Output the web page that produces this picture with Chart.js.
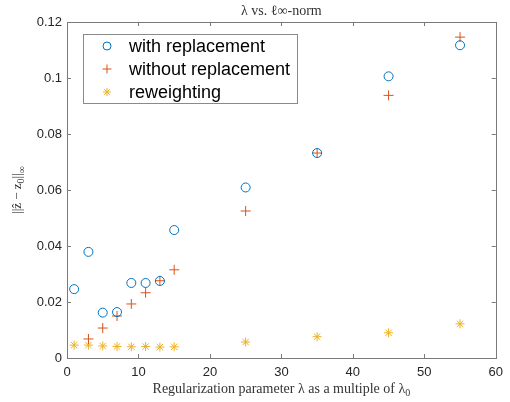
<!DOCTYPE html>
<html><head><meta charset="utf-8">
<script src="https://cdn.jsdelivr.net/npm/chart.js@4.4.0/dist/chart.umd.min.js"></script>
<style>html,body{margin:0;padding:0;background:#fff}#wrap{width:510px;height:402px}</style>
</head><body><div id="wrap"><canvas id="c" width="510" height="402"></canvas></div>
<script>
const xValues = [1, 3, 5, 7, 9, 11, 13, 15, 25, 35, 45, 55];
const withReplacement = [0.0246, 0.0379, 0.0162, 0.0164, 0.0268, 0.0268, 0.0275, 0.0457, 0.0609, 0.0732, 0.1006, 0.1117];
const withoutReplacement = [null, 0.0068, 0.0107, 0.0150, 0.0193, 0.0233, 0.0276, 0.0315, 0.0525, 0.0732, 0.0938, 0.1146];
const reweighting = [0.0046, 0.0046, 0.0043, 0.0041, 0.0040, 0.0041, 0.0039, 0.0040, 0.0057, 0.0076, 0.0090, 0.0122];
const seriesNames = ['with replacement', 'without replacement', 'reweighting'];
const xTicks = [0, 10, 20, 30, 40, 50, 60];
const yTicks = [0, 0.02, 0.04, 0.06, 0.08, 0.1, 0.12];
const yTickLabels = ['0', '0.02', '0.04', '0.06', '0.08', '0.1', '0.12'];
const xTickLabels = ['0', '10', '20', '30', '40', '50', '60'];
const titleText = 'λ vs. ℓ∞-norm';
const xTitle = 'Regularization parameter λ as a multiple of λ';

const colors = ['#0072BD', '#D95319', '#EDB120'];
const styles = ['circle', 'cross', 'star'];
const radii = [4.5, 5, 4.5];
const sans = '"Liberation Sans", Arial, sans-serif';
const serif = '"Liberation Serif", "Times New Roman", serif';

function pts(ys){ return xValues.map((x,i)=> ys[i]==null ? null : {x:x, y:ys[i]}).filter(p=>p); }

const overlay = {
  id: 'overlay',
  afterDraw(chart){
    const ctx = chart.ctx, a = chart.chartArea, xs = chart.scales.x, ys = chart.scales.y;
    ctx.save();
    ctx.strokeStyle = '#7a7a7a'; ctx.lineWidth = 1;
    ctx.strokeRect(Math.round(a.left)+0.5, Math.round(a.top)+0.5, Math.round(a.right-a.left), Math.round(a.bottom-a.top));
    ctx.beginPath();
    xTicks.forEach(v=>{ const px = Math.round(xs.getPixelForValue(v))+0.5;
      ctx.moveTo(px, a.bottom); ctx.lineTo(px, a.bottom-4);
      ctx.moveTo(px, a.top); ctx.lineTo(px, a.top+4); });
    yTicks.forEach(v=>{ const py = Math.round(ys.getPixelForValue(v))+0.5;
      ctx.moveTo(a.left, py); ctx.lineTo(a.left+4, py);
      ctx.moveTo(a.right, py); ctx.lineTo(a.right-4, py); });
    ctx.stroke();
    ctx.fillStyle = '#333';
    ctx.textAlign = 'center'; ctx.textBaseline = 'middle';
    ctx.font = '14px ' + serif;
    const cx = (a.left + a.right)/2;
    ctx.fillText(titleText, cx, 11);
    ctx.font = '14px ' + serif;
    const w1 = ctx.measureText(xTitle).width;
    ctx.font = '10px ' + serif;
    const w2 = ctx.measureText('0').width;
    const sx = cx - (w1 + w2)/2;
    ctx.textAlign = 'left';
    ctx.font = '14px ' + serif;
    ctx.fillText(xTitle, sx, 389);
    ctx.font = '10px ' + serif;
    ctx.fillText('0', sx + w1, 393);
    ctx.save();
    ctx.translate(18, (a.top + a.bottom)/2);
    ctx.rotate(-Math.PI/2);
    const p1 = '||ẑ − z', p2 = '0', p3 = '||', p4 = '∞';
    ctx.font = '13px ' + serif;
    const m1 = ctx.measureText(p1).width, m3 = ctx.measureText(p3).width;
    ctx.font = '10px ' + serif;
    const m2 = ctx.measureText(p2).width, m4 = ctx.measureText(p4).width;
    let tx = -(m1+m2+m3+m4)/2;
    ctx.textAlign = 'left';
    ctx.font = '13px ' + serif; ctx.fillText(p1, tx, 0); tx += m1;
    ctx.font = '10px ' + serif; ctx.fillText(p2, tx, 3); tx += m2;
    ctx.font = '13px ' + serif; ctx.fillText(p3, tx, 0); tx += m3;
    ctx.font = '10px ' + serif; ctx.fillText(p4, tx, 4);
    ctx.restore();
    ctx.fillStyle = '#fff';
    ctx.fillRect(83, 34, 214, 69);
    ctx.strokeStyle = '#8a8a8a';
    ctx.strokeRect(83.5, 34.5, 214, 69);
    ctx.font = '18px ' + sans;
    ctx.textAlign = 'left'; ctx.textBaseline = 'middle';
    seriesNames.forEach((n,i)=>{
      const yy = 46 + i*23;
      ctx.strokeStyle = colors[i]; ctx.fillStyle = i===2 ? colors[i] : 'rgba(0,0,0,0)'; ctx.lineWidth = 1;
      Chart.helpers.drawPoint(ctx, {pointStyle: styles[i], radius: radii[i]-0.5, borderWidth: 1}, 107, yy);
      ctx.fillStyle = '#000';
      ctx.fillText(n, 129, yy+1);
    });
    ctx.restore();
  }
};

new Chart(document.getElementById('c'), {
  type: 'scatter',
  data: { datasets: [withReplacement, withoutReplacement, reweighting].map((d,i)=>({
    label: seriesNames[i], data: pts(d), pointStyle: styles[i], radius: radii[i],
    borderColor: colors[i], backgroundColor: i===2 ? colors[i] : 'rgba(0,0,0,0)', borderWidth: 1,
    clip: false
  })) },
  plugins: [overlay],
  options: {
    responsive: false, animation: false, devicePixelRatio: 1,
    layout: { padding: { top: 22, right: 14, left: 0, bottom: 0 } },
    plugins: { legend: { display: false }, tooltip: { enabled: false }, title: { display: false } },
    scales: {
      x: { type: 'linear', min: 0, max: 60,
        afterBuildTicks: s => { s.ticks = xTicks.map(v=>({value:v})); },
        afterFit: s => { s.height = 44; },
        grid: { display: false, drawTicks: false }, border: { display: false },
        ticks: { padding: 7, color: '#262626', font: { family: sans, size: 13 }, maxRotation: 0,
          callback: (v) => xTickLabels[xTicks.indexOf(v)] } },
      y: { min: 0, max: 0.12,
        afterBuildTicks: s => { s.ticks = yTicks.map(v=>({value:v})); },
        afterFit: s => { s.width = 67; },
        grid: { display: false, drawTicks: false }, border: { display: false },
        ticks: { padding: 5, color: '#262626', font: { family: sans, size: 13 },
          callback: (v) => { const i = yTicks.findIndex(t=>Math.abs(t-v)<1e-9); return i<0 ? '' : yTickLabels[i]; } } }
    }
  }
});
</script>
</body></html>
